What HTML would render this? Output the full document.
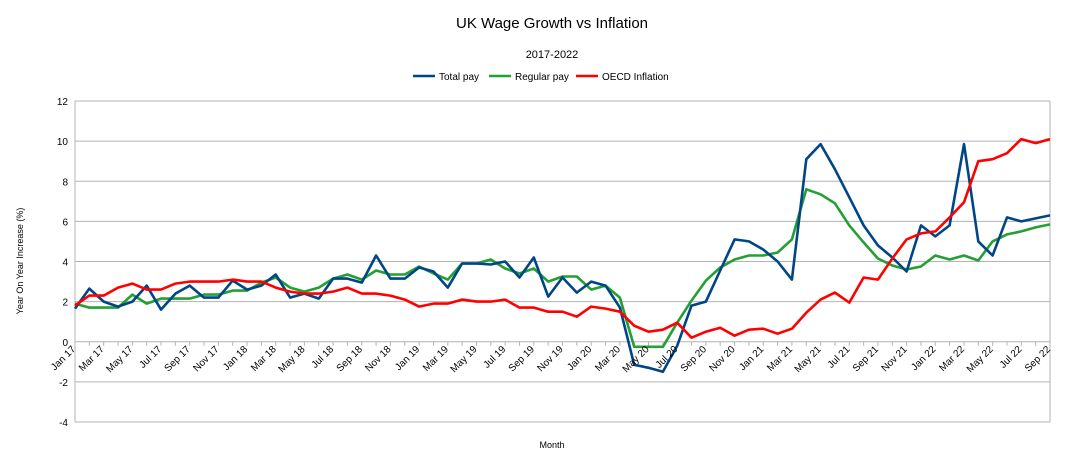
<!DOCTYPE html>
<html><head><meta charset="utf-8">
<style>
html,body{margin:0;padding:0;background:#fff;}
svg{display:block;font-family:"Liberation Sans",sans-serif;}
</style></head>
<body>
<svg id="chart" width="1076" height="465" viewBox="0 0 1076 465" xmlns="http://www.w3.org/2000/svg">
<text x="552" y="28" font-size="15" text-anchor="middle">UK Wage Growth vs Inflation</text>
<text x="552" y="58" font-size="11" text-anchor="middle">2017-2022</text>
<g font-size="10">
 <g><line x1="413" y1="76" x2="435" y2="76" stroke="#004586" stroke-width="2.5"/><text x="439" y="80">Total pay</text></g>
 <g><line x1="489" y1="76" x2="511" y2="76" stroke="#22a033" stroke-width="2.5"/><text x="515" y="80">Regular pay</text></g>
 <g><line x1="576" y1="76" x2="598" y2="76" stroke="#ff0000" stroke-width="2.5"/><text x="602" y="80">OECD Inflation</text></g>
</g>
<g id="grid"></g>
<g id="series"></g>
<g id="xlabels" font-size="10"></g>
<g id="ylabels" font-size="10"></g>
<text transform="translate(23,261) rotate(-90)" font-size="9" text-anchor="middle">Year On Year Increase (%)</text>
<text x="552" y="448" font-size="9" text-anchor="middle">Month</text>
</svg>
<script>
const months = ["Jan","Feb","Mar","Apr","May","Jun","Jul","Aug","Sep","Oct","Nov","Dec"];
const categories = [];
for (let y = 17; y <= 22; y++) for (let m = 0; m < 12; m++) { if (y === 22 && m > 8) break; categories.push(months[m] + " " + y); }
const totalPay = [1.65,2.65,2.0,1.75,2.0,2.8,1.6,2.4,2.8,2.2,2.2,3.05,
 2.6,2.8,3.35,2.2,2.4,2.15,3.15,3.15,2.95,4.3,3.15,3.15,
 3.7,3.5,2.7,3.9,3.9,3.85,4.0,3.2,4.2,2.25,3.2,2.45,
 3.0,2.8,1.7,-1.15,-1.3,-1.5,-0.2,1.8,2.0,3.55,5.1,5.0,
 4.6,4.0,3.1,9.1,9.85,8.6,7.2,5.8,4.8,4.2,3.5,5.8,
 5.25,5.8,9.85,5.0,4.3,6.2,6.0,6.15,6.3];
const regularPay = [1.9,1.7,1.7,1.7,2.35,1.9,2.15,2.15,2.15,2.35,2.35,2.55,
 2.55,2.95,3.2,2.7,2.5,2.7,3.15,3.35,3.1,3.55,3.35,3.35,
 3.75,3.4,3.1,3.9,3.9,4.1,3.65,3.4,3.65,3.0,3.25,3.25,
 2.6,2.8,2.2,-0.25,-0.25,-0.25,0.95,2.05,3.05,3.7,4.1,4.3,
 4.3,4.45,5.1,7.6,7.35,6.9,5.8,4.95,4.15,3.8,3.6,3.75,
 4.3,4.1,4.3,4.05,5.0,5.35,5.5,5.7,5.85];
const inflation = [1.8,2.3,2.3,2.7,2.9,2.6,2.6,2.9,3.0,3.0,3.0,3.1,
 3.0,3.0,2.7,2.5,2.4,2.4,2.5,2.7,2.4,2.4,2.3,2.1,
 1.75,1.9,1.9,2.1,2.0,2.0,2.1,1.7,1.7,1.5,1.5,1.25,
 1.75,1.65,1.5,0.8,0.5,0.6,0.95,0.2,0.5,0.7,0.3,0.6,
 0.65,0.4,0.65,1.45,2.1,2.45,1.95,3.2,3.1,4.15,5.1,5.4,
 5.5,6.2,6.95,9.0,9.1,9.4,10.1,9.9,10.1];
const yTicks = [-4,-2,0,2,4,6,8,10,12];

const NS = "http://www.w3.org/2000/svg";
const X0 = 75, X1 = 1050, YTOP = 101, YBOT = 422, YMIN = -4, YMAX = 12;
const xs = i => X0 + (X1 - X0) * i / (categories.length - 1);
const ys = v => YBOT - (v - YMIN) / (YMAX - YMIN) * (YBOT - YTOP);
function mk(tag, attrs, parent) { const e = document.createElementNS(NS, tag); for (const k in attrs) e.setAttribute(k, attrs[k]); parent.appendChild(e); return e; }

const grid = document.getElementById("grid");
const yl = document.getElementById("ylabels");
yTicks.forEach(t => {
  const g = mk("line", {x1: X0, x2: X1, y1: ys(t), y2: ys(t), stroke: "#b3b3b3", "stroke-width": 1}, grid);
  
  
  const tx = mk("text", {x: 68, y: ys(t) + 4, "text-anchor": "end"}, yl);
  
  
  tx.textContent = t;
});
const vl = mk("line", {x1: X0, x2: X0, y1: YTOP, y2: YBOT, stroke: "#b3b3b3"}, grid);


const vr = mk("line", {x1: X1, x2: X1, y1: YTOP, y2: YBOT, stroke: "#b3b3b3"}, grid);



const xl = document.getElementById("xlabels");
categories.forEach((c, i) => {
  const tk = mk("line", {x1: xs(i), x2: xs(i), y1: ys(0), y2: ys(0) + 4, stroke: "#b3b3b3"}, grid);
  
  
  if (i % 2 === 0) {
    const px = xs(i) + 1, py = ys(0) + 8;
    const tx = mk("text", {x: px, y: py, "text-anchor": "end", transform: `rotate(-45 ${px} ${py})`}, xl);
    
    
    tx.textContent = c;
  }
});

const sg = document.getElementById("series");
[[regularPay, "#22a033", "regular-pay-line"], [totalPay, "#004586", "total-pay-line"], [inflation, "#ff0000", "oecd-inflation-line"]].forEach(([d, col, name]) => {
  const p = mk("polyline", {points: d.map((v, i) => xs(i).toFixed(1) + "," + ys(v).toFixed(1)).join(" "), fill: "none", stroke: col, "stroke-width": 2.6, "stroke-linejoin": "round"}, sg);
  
  
});
</script>
</body></html>
